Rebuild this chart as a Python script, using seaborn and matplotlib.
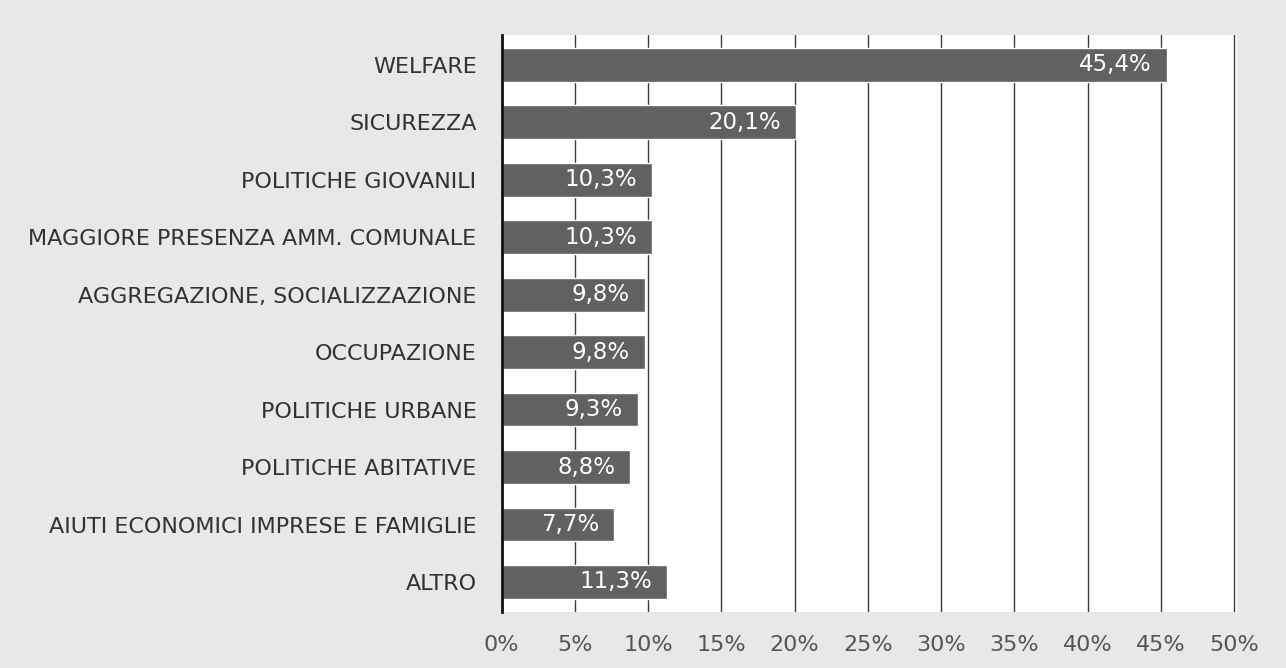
import matplotlib
matplotlib.use("Agg")
import matplotlib.pyplot as plt
import seaborn as sns
import pandas as pd

categories = ["WELFARE", "SICUREZZA", "POLITICHE GIOVANILI",
              "MAGGIORE PRESENZA AMM. COMUNALE", "AGGREGAZIONE, SOCIALIZZAZIONE",
              "OCCUPAZIONE", "POLITICHE URBANE", "POLITICHE ABITATIVE",
              "AIUTI ECONOMICI IMPRESE E FAMIGLIE", "ALTRO"]
values = [45.4, 20.1, 10.3, 10.3, 9.8, 9.8, 9.3, 8.8, 7.7, 11.3]
value_labels = ["45,4%", "20,1%", "10,3%", "10,3%", "9,8%", "9,8%", "9,3%", "8,8%", "7,7%", "11,3%"]
xticks = [0, 5, 10, 15, 20, 25, 30, 35, 40, 45, 50]
xtick_labels = ["0%", "5%", "10%", "15%", "20%", "25%", "30%", "35%", "40%", "45%", "50%"]

sns.set_theme(style="white")
plt.rcParams['font.family'] = ["DejaVu Sans Condensed", 'DejaVu Sans']

df = pd.DataFrame({"cat": categories, "val": values})

fig = plt.figure(figsize=(12.86, 6.68), dpi=100, facecolor="#e8e8e8")
ax = fig.add_axes([0.390, 0.084, 0.572, 0.864])
ax.set_facecolor("white")

sns.barplot(data=df, x="val", y="cat", color="#616161", saturation=1, width=0.59, ax=ax, zorder=3)

for i, (v, lab) in enumerate(zip(values, value_labels)):
    ax.annotate(lab, xy=(v, i), xytext=(-11, 0), textcoords="offset points",
                ha="right", va="center", color="white", fontsize=16.5, zorder=5)

ax.set_xlim(0, 50.2)
ax.set_ylim(9.52, -0.52)
ax.set_xticks(xticks)
ax.set_xticklabels(xtick_labels, fontsize=16, color="#555555")
ax.tick_params(axis="y", labelsize=16, labelcolor="#333333", length=0, pad=18)
ax.tick_params(axis="x", length=0, pad=17)
ax.set_xlabel("")
ax.set_ylabel("")
for x in xticks[1:]:
    ax.axvline(x, color="#3c3c3c", lw=1.0, zorder=1)
for s in ["top", "right", "bottom"]:
    ax.spines[s].set_visible(False)
ax.spines["left"].set_color("#111111")
ax.spines["left"].set_linewidth(2)
ax.spines["left"].set_zorder(6)

fig.savefig("out.png", dpi=100, facecolor=fig.get_facecolor())
